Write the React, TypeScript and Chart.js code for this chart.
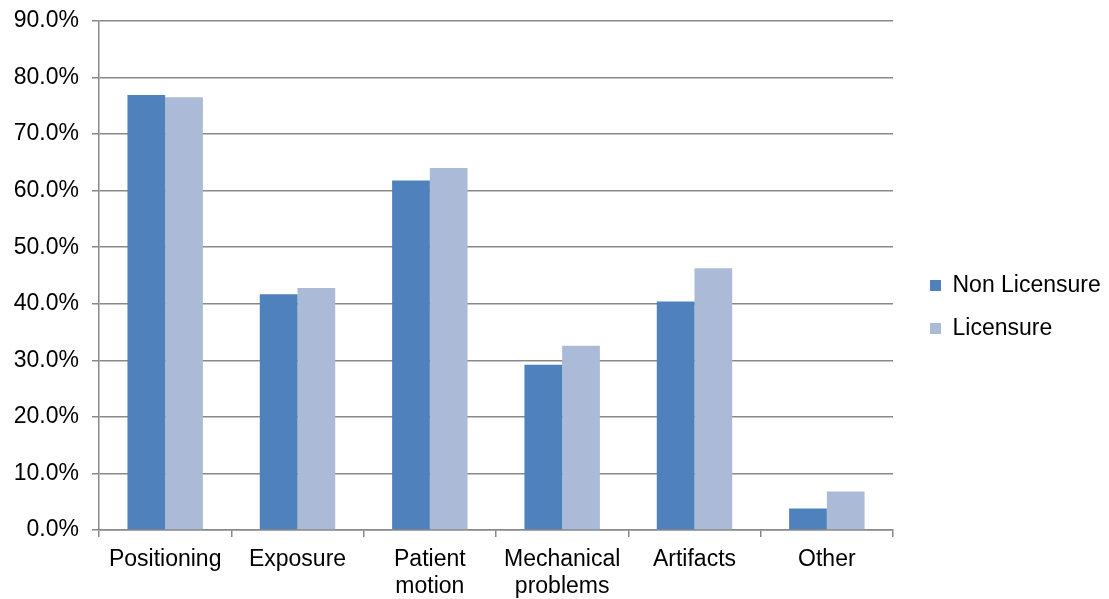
import { useEffect, useRef } from "react";
import { Chart, registerables } from "chart.js";

Chart.register(...registerables);

const categories: (string | string[])[] = [
  "Positioning",
  "Exposure",
  ["Patient", "motion"],
  ["Mechanical", "problems"],
  "Artifacts",
  "Other",
];
const nonLicensure = [76.9, 41.7, 61.8, 29.2, 40.4, 3.8];
const licensure = [76.5, 42.8, 64.0, 32.6, 46.3, 6.8];
const seriesNames = ["Non Licensure", "Licensure"];
const yMin = 0;
const yMax = 90;
const yStep = 10;

const FONT = "'Liberation Sans', Arial, Helvetica, sans-serif";
const FS = 23;
const GRID = "#898989";
const LEGEND_W = 216;

const legendTweak = {
  id: "legendTweak",
  beforeLayout(chart: any) {
    const lg = chart.legend;
    if (lg && !lg.__patched) {
      const orig = lg.fit.bind(lg);
      lg.fit = function () {
        orig();
        this.width = LEGEND_W;
      };
      lg.__patched = true;
    }
  },
  afterLayout(chart: any) {
    const lg = chart.legend;
    if (lg) {
      lg.left += 17;
      lg.top -= 3;
      lg.bottom -= 3;
    }
  },
};

export default function App() {
  const ref = useRef<HTMLCanvasElement>(null);

  useEffect(() => {
    if (!ref.current) return;
    const chart = new Chart(ref.current, {
      type: "bar",
      data: {
        labels: categories,
        datasets: [
          {
            label: seriesNames[0],
            data: nonLicensure,
            backgroundColor: "#4F81BD",
            borderWidth: 0,
          },
          {
            label: seriesNames[1],
            data: licensure,
            backgroundColor: "#AABAD7",
            borderWidth: 0,
          },
        ],
      },
      options: {
        responsive: false,
        animation: false,
        layout: { padding: { top: 21, right: 0, bottom: 0, left: 0 } },
        datasets: {
          bar: { categoryPercentage: 0.57, barPercentage: 1.0 },
        },
        font: { family: FONT, size: FS },
        plugins: {
          legend: {
            position: "right",
            align: "center",
            labels: {
              font: { family: FONT, size: FS },
              color: "#000",
              boxWidth: 11,
              boxHeight: 11,
              padding: 20,
            },
          },
          tooltip: { enabled: false },
        },
        scales: {
          x: {
            offset: true,
            grid: {
              display: true,
              drawOnChartArea: false,
              drawTicks: true,
              tickLength: 7,
              color: GRID,
              lineWidth: 1.5,
              offset: true,
            },
            border: { display: true, color: GRID, width: 1.5 },
            ticks: {
              font: { family: FONT, size: FS, lineHeight: 1.18 },
              color: "#000",
              maxRotation: 0,
              minRotation: 0,
              autoSkip: false,
              padding: 9,
            },
            afterFit(scale: any) {
              scale.height = 69;
              scale.paddingLeft = 0;
              scale.paddingRight = 0;
            },
          },
          y: {
            min: yMin,
            max: yMax,
            grid: {
              color: GRID,
              lineWidth: 1.5,
              tickLength: 7,
              drawTicks: true,
            },
            border: { display: true, color: GRID, width: 1.5 },
            ticks: {
              stepSize: yStep,
              font: { family: FONT, size: FS },
              color: "#000",
              padding: 13,
              callback: (v: any) => Number(v).toFixed(1) + "%",
            },
            afterFit(scale: any) {
              scale.width = 99;
              scale.paddingTop = 0;
              scale.paddingBottom = 0;
            },
          },
        },
      },
      plugins: [legendTweak],
    });
    return () => chart.destroy();
  }, []);

  return (
    <div style={{ position: "absolute", left: 0, top: 0, width: 1109, height: 599, background: "#fff" }}>
      <canvas ref={ref} width={1109} height={599} style={{ display: "block" }} />
    </div>
  );
}
